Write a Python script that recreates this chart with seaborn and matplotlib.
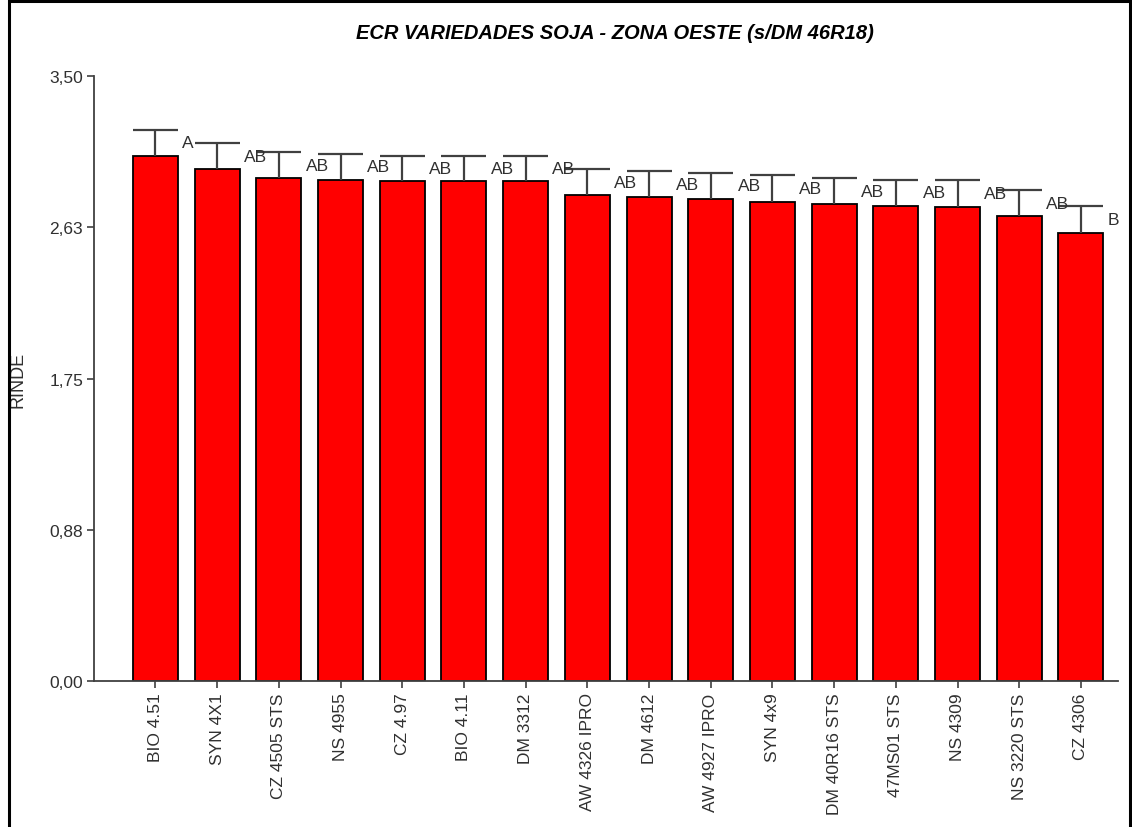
import numpy as np
import pandas as pd
import seaborn as sns
import matplotlib.pyplot as plt
from matplotlib.patches import Rectangle

# Datos
variedades = ['BIO 4.51', 'SYN 4X1', 'CZ 4505 STS', 'NS 4955', 'CZ 4.97', 'BIO 4.11',
              'DM 3312', 'AW 4326 IPRO', 'DM 4612', 'AW 4927 IPRO', 'SYN 4x9',
              'DM 40R16 STS', '47MS01 STS', 'NS 4309', 'NS 3220 STS', 'CZ 4306']
rinde = [3.04, 2.96, 2.91, 2.90, 2.89, 2.89, 2.89, 2.81, 2.80, 2.79, 2.77, 2.76, 2.75, 2.74, 2.69, 2.59]
error = [0.15, 0.15, 0.15, 0.15, 0.15, 0.15, 0.15, 0.15, 0.15, 0.15, 0.16, 0.15, 0.15, 0.16, 0.15, 0.16]
letras = ['A', 'AB', 'AB', 'AB', 'AB', 'AB', 'AB', 'AB', 'AB', 'AB', 'AB', 'AB', 'AB', 'AB', 'AB', 'B']
yticks = [0.0, 0.875, 1.75, 2.625, 3.5]
yticklabels = ['0,00', '0,88', '1,75', '2,63', '3,50']

sns.set_style('white')
plt.rcParams['font.family'] = ['Liberation Sans', 'DejaVu Sans']

df = pd.DataFrame({'variedad': variedades, 'rinde': rinde, 'ee': error})
df['sup'] = df['rinde'] + df['ee']

W, H = 1132, 828
fig = plt.figure(figsize=(W / 100, H / 100), dpi=100)
ax = fig.add_axes([94.3 / W, 1 - 682.3 / H, (1118 - 94.3) / W, (682.3 - 77) / H])

ancho = 0.73
sns.barplot(data=df, x='variedad', y='rinde', color='#ff0000', saturation=1,
            edgecolor='black', linewidth=1.3, width=ancho, ax=ax)

# barras de error (solo hacia arriba)
x = np.arange(len(df))
ax.vlines(x, df['rinde'], df['sup'], color='#404040', lw=1.6, zorder=3)
ax.hlines(df['sup'], x - ancho / 2, x + ancho / 2, color='#404040', lw=1.6, zorder=3)

# letras de comparacion
for i, row in df.iterrows():
    ax.text(i + ancho / 2 + 0.07, row['rinde'] + row['ee'] / 2, letras[i],
            ha='left', va='center', fontsize=12.5, color='#303030')

ax.set_xlim(-0.99, 15.6)
ax.set_ylim(0, 3.5)
ax.set_yticks(yticks)
ax.set_yticklabels(yticklabels)
ax.set_xticks(x)
ax.set_xticklabels(variedades, rotation=90)
ax.set_xlabel('')
ax.set_ylabel('RINDE', fontsize=13, color='#303030')
ax.yaxis.set_label_coords(-0.0667, 0.5)

for s in ['top', 'right']:
    ax.spines[s].set_visible(False)
for s in ['left', 'bottom']:
    ax.spines[s].set_color('#404040')
    ax.spines[s].set_linewidth(1.3)
ax.tick_params(axis='both', direction='out', length=5, width=1.2, color='#404040',
               labelsize=12.5, labelcolor='#303030', left=True, bottom=True, pad=3)

fig.text(0.543, 0.960, 'ECR VARIEDADES SOJA - ZONA OESTE (s/DM 46R18)',
         ha='center', va='center', fontsize=14.5, fontweight='bold', fontstyle='italic',
         color='black')

# marco de la figura
fig.add_artist(Rectangle((9 / W, -0.05), (1130 - 9) / W, 1.048, transform=fig.transFigure,
                         fill=False, lw=2.2, ec='black'))

fig.savefig('out.png', dpi=100)
